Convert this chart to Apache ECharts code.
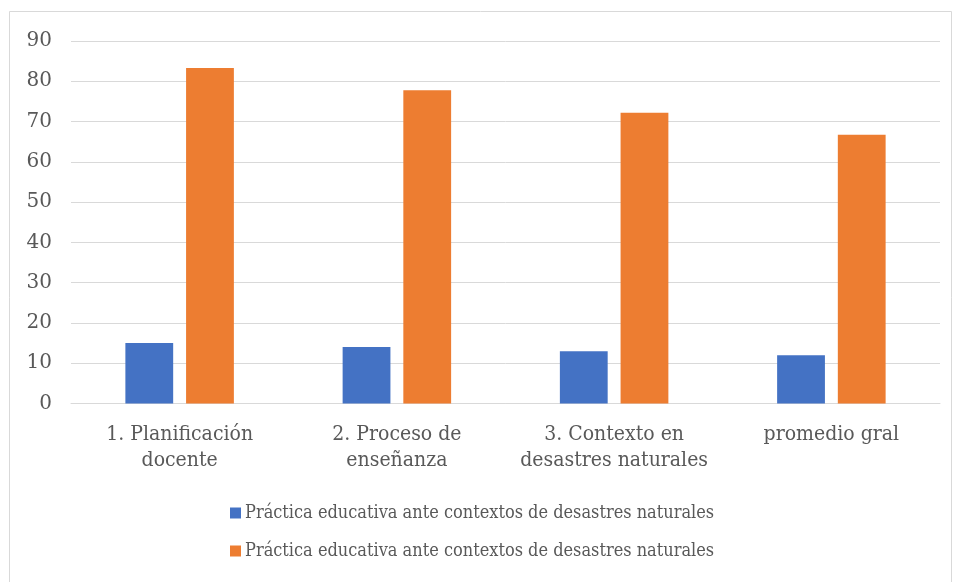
<!DOCTYPE html>
<html>
<head>
<meta charset="utf-8">
<script src="https://cdn.jsdelivr.net/npm/echarts@6/dist/echarts.min.js"></script>
<style>html,body{margin:0;padding:0;background:#fff}#c{width:954px;height:582px}</style>
</head>
<body>
<div id="c"></div>
<script>
const categories = ['1. Planificación\ndocente', '2. Proceso de\nenseñanza', '3. Contexto en\ndesastres naturales', 'promedio gral'];
const seriesNames = ['Práctica educativa ante contextos de desastres naturales', 'Práctica educativa ante contextos de desastres naturales\u200b'];
const blueValues = [15, 14, 13, 12];
const orangeValues = [83.3, 77.8, 72.2, 66.7];
const yTicks = [0, 10, 20, 30, 40, 50, 60, 70, 80, 90];

const condensed = '"DejaVu Serif Condensed", "DejaVu Serif"';
const chart = echarts.init(document.getElementById('c'), null, {renderer: 'canvas'});
chart.setOption({
  animation: false,
  backgroundColor: '#fff',
  textStyle: {fontFamily: 'DejaVu Serif'},
  graphic: [{
    type: 'rect', shape: {x: 9.5, y: 11.5, width: 942, height: 580},
    style: {fill: 'none', stroke: '#d9d9d9', lineWidth: 1}, silent: true, z: -1
  }],
  grid: {left: 71, right: 14, top: 41, bottom: 178.5, containLabel: false},
  xAxis: {
    type: 'category', data: categories,
    axisLine: {show: true, lineStyle: {color: '#d9d9d9', width: 1}},
    axisTick: {show: false},
    axisLabel: {color: '#595959', fontFamily: condensed, fontSize: 21, lineHeight: 26, margin: 18, interval: 0}
  },
  yAxis: {
    type: 'value', min: yTicks[0], max: yTicks[yTicks.length - 1], interval: 10,
    axisLine: {show: false}, axisTick: {show: false},
    splitLine: {lineStyle: {color: '#d9d9d9', width: 1}},
    axisLabel: {color: '#595959', fontFamily: 'DejaVu Serif', fontSize: 20, margin: 19}
  },
  legend: {
    orient: 'vertical', left: 225, top: 497,
    itemWidth: 11, itemHeight: 11, itemGap: 16, icon: 'rect',
    formatter: n => n.replace('\u200b', ''),
    textStyle: {color: '#595959', fontFamily: condensed, fontSize: 18, lineHeight: 22, padding: [0, 0, 0, -1]},
    data: seriesNames
  },
  series: [
    {name: seriesNames[0], type: 'bar', data: blueValues, barWidth: '22%', barGap: '27%', itemStyle: {color: '#4472c4'}},
    {name: seriesNames[1], type: 'bar', data: orangeValues, barWidth: '22%', barGap: '27%', itemStyle: {color: '#ed7d31'}}
  ]
});
</script>
</body>
</html>
